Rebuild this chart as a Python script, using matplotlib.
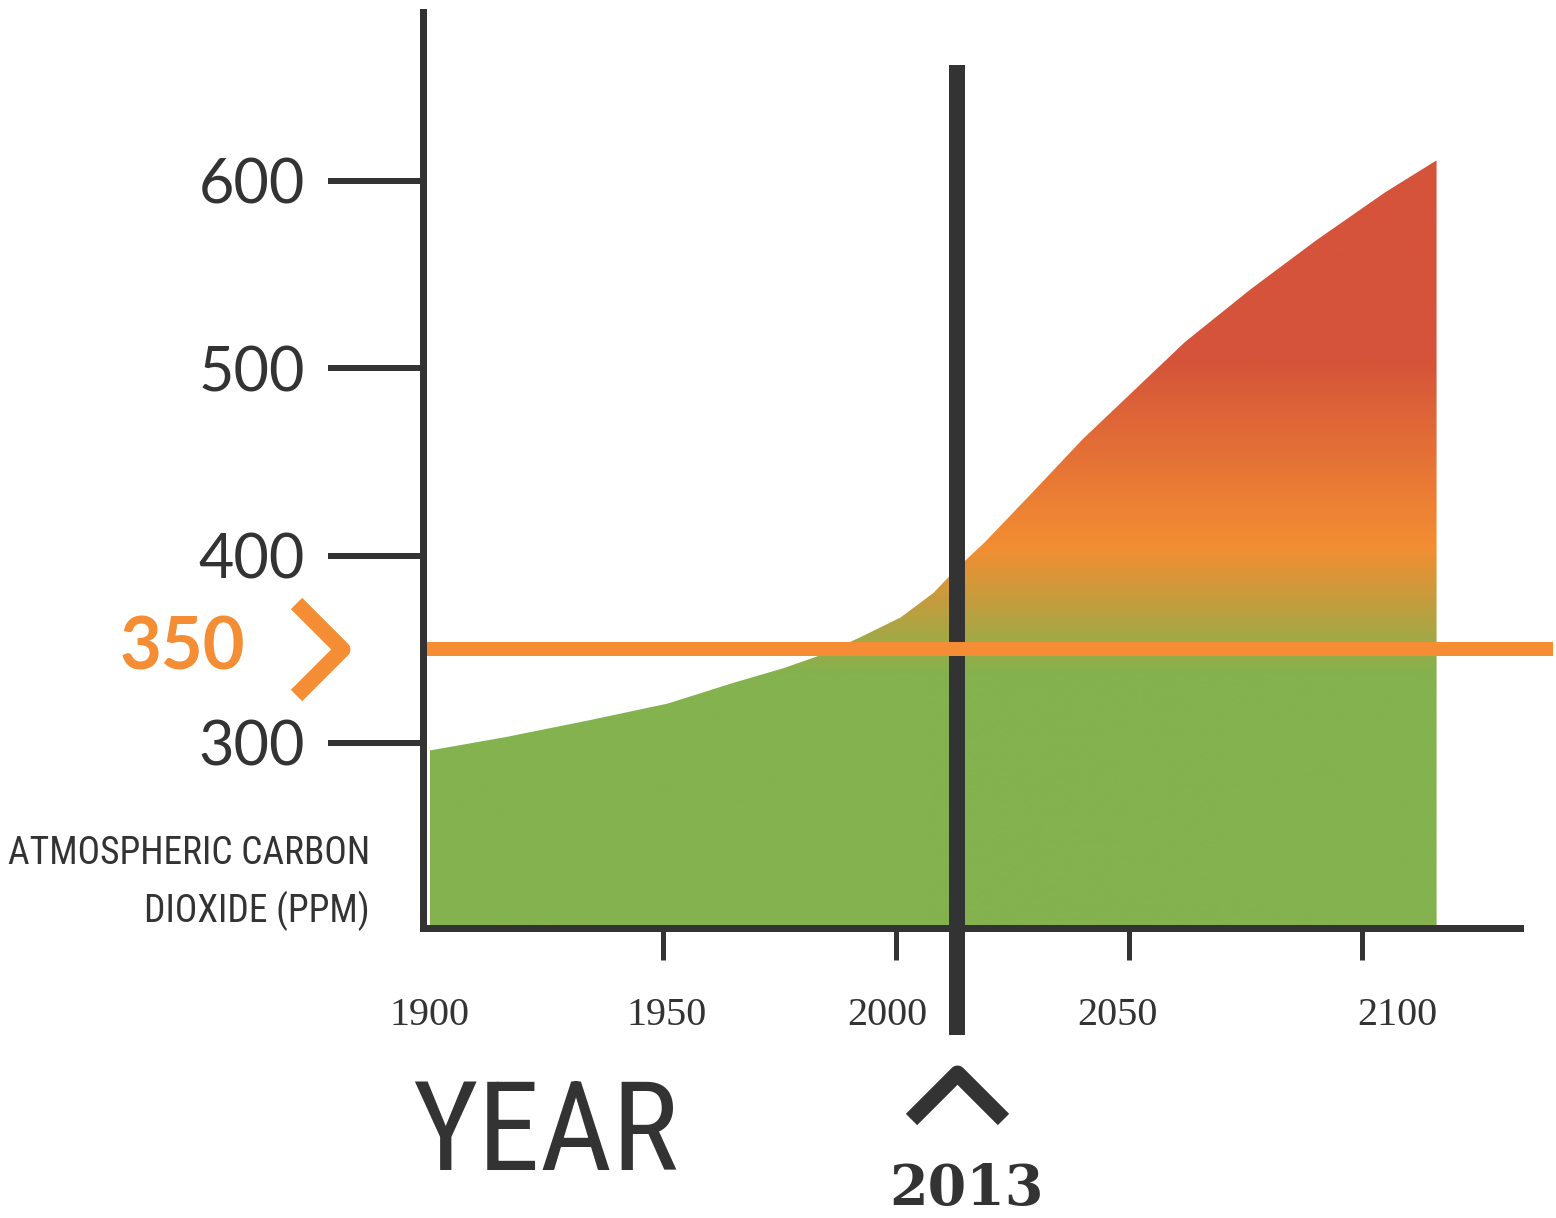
import numpy as np
import matplotlib
matplotlib.use("Agg")
import matplotlib.pyplot as plt
from matplotlib.colors import LinearSegmentedColormap
from matplotlib.path import Path
from matplotlib.transforms import offset_copy, ScaledTranslation

# atmospheric CO2 (ppm), historical + projected
years = [1900, 1916, 1934, 1951, 1965, 1976, 1984, 1992, 2001, 2008, 2013,
         2019, 2029, 2040, 2051, 2062, 2076, 2090, 2105, 2116]
ppm = [296, 303, 312, 321, 332, 340, 347, 356, 367, 380, 393,
       407, 433, 462, 488, 514, 542, 568, 594, 611]

safe_level = 350
now_year = 2013

year_ticks = [1900, 1950, 2000, 2050, 2100]
ppm_ticks = [300, 400, 500, 600]

# colour ramp of the area, keyed to ppm
ramp_levels = [336, 404, 505]
ramp_colors = ["#83b24e", "#f38e32", "#d5533a"]

DARK = "#333333"
ORANGE = "#f48d33"
PX = 0.72  # points per pixel at dpi 100
NARROW = ["Roboto Condensed", "Liberation Sans Narrow", "DejaVu Sans"]

fig = plt.figure(figsize=(15.56, 12.18), dpi=100)
ax = fig.add_axes([423 / 1556, 290 / 1218, 1097 / 1556, 916 / 1218])
ax.set_xlim(1898.5, 2133.9)
ax.set_ylim(201.2, 690.2)
lo, hi = ax.get_ylim()

# gradient area under the curve
area = ax.fill_between(years, ppm, lo, facecolor="none", edgecolor="none")
stops = [(0.0, ramp_colors[0])]
for lev, col in zip(ramp_levels, ramp_colors):
    stops.append(((lev - lo) / (hi - lo), col))
stops.append((1.0, ramp_colors[-1]))
cmap = LinearSegmentedColormap.from_list("co2", stops)
grad = np.linspace(lo, hi, 600).reshape(-1, 1)
img = ax.imshow(grad, extent=[years[0], years[-1], lo, hi], origin="lower",
                aspect="auto", cmap=cmap, vmin=lo, vmax=hi, zorder=1)
img.set_clip_path(area.get_paths()[0], transform=ax.transData)

# "now" marker line, runs past the x axis
ax.plot([now_year, now_year], [-0.117, 0.942], transform=ax.get_xaxis_transform(),
        color=DARK, lw=16 * PX, solid_capstyle="butt", clip_on=False, zorder=3)

# 350 ppm line to the right edge
ax.plot([0, 1.03], [safe_level, safe_level], transform=ax.get_yaxis_transform(),
        color=ORANGE, lw=14 * PX, solid_capstyle="butt", clip_on=False, zorder=4)

# axes styling
for side in ["top", "right"]:
    ax.spines[side].set_visible(False)
for side in ["left", "bottom"]:
    ax.spines[side].set_linewidth(7 * PX)
    ax.spines[side].set_color(DARK)
    ax.spines[side].set_zorder(5)

ax.set_xticks(year_ticks)
ax.set_xticklabels([str(y) for y in year_ticks])
ax.set_yticks(ppm_ticks)
ax.set_yticklabels([str(v) for v in ppm_ticks])
ax.tick_params(axis="y", direction="out", length=95 * PX, width=6 * PX, color=DARK,
               pad=23 * PX, labelsize=44, labelcolor=DARK)
ax.tick_params(axis="x", direction="out", length=32 * PX, width=5 * PX, color=DARK,
               pad=37 * PX, labelsize=29, labelcolor=DARK)
ax.xaxis.get_major_ticks()[0].tick1line.set_visible(False)
for lab in ax.get_yticklabels():
    lab.set_family(["Lato", "DejaVu Sans"])
# year labels sit a little off their ticks
label_shift = [0, 4, -9, -12, 35]
for lab, dx in zip(ax.get_xticklabels(), label_shift):
    lab.set_family(["Liberation Serif", "DejaVu Serif"])
    lab.set_transform(lab.get_transform() + ScaledTranslation(dx / 100, 0, fig.dpi_scale_trans))

# 350 label and chevron
ax.annotate(str(safe_level), xy=(0, safe_level), xycoords=ax.get_yaxis_transform(),
            xytext=(-178 * PX, 0), textcoords="offset points", ha="right", va="center",
            fontsize=52, fontweight="bold", color=ORANGE, family=["Lato", "DejaVu Sans"])
chevron_r = Path([(-1, 1), (0, 0), (-1, -1)], [Path.MOVETO, Path.LINETO, Path.LINETO])
ax.plot([0], [safe_level], marker=chevron_r, markersize=92 * PX, markeredgewidth=16 * PX,
        markerfacecolor="none", markeredgecolor=ORANGE, clip_on=False,
        transform=offset_copy(ax.get_yaxis_transform(), fig=fig, x=-81 * PX, units="points"))

# caret and year under the now line
chevron_up = Path([(-1, -1), (0, 0), (1, -1)], [Path.MOVETO, Path.LINETO, Path.LINETO])
ax.plot([now_year], [0], marker=chevron_up, markersize=92 * PX, markeredgewidth=16 * PX,
        markerfacecolor="none", markeredgecolor=DARK, clip_on=False,
        transform=offset_copy(ax.get_xaxis_transform(), fig=fig, y=-145 * PX, units="points"))
ax.annotate(str(now_year), xy=(now_year, 0), xycoords=ax.get_xaxis_transform(),
            xytext=(10 * PX, -262 * PX), textcoords="offset points", ha="center", va="center",
            fontsize=40, fontweight="bold", color=DARK, family=["DejaVu Serif"])

# axis titles
fig.text(370 / 1556, 1 - 922 / 1218, "ATMOSPHERIC CARBON\nDIOXIDE (PPM)", ha="right",
         va="baseline", ma="right", fontsize=27, color=DARK, linespacing=1.6,
         family=NARROW, fontstretch="condensed")
fig.text(412 / 1556, 1 - 1170 / 1218, "YEAR", ha="left", va="baseline", fontsize=90,
         color=DARK, family=NARROW, fontstretch="condensed")

fig.savefig("out.png", dpi=100, facecolor="white")
